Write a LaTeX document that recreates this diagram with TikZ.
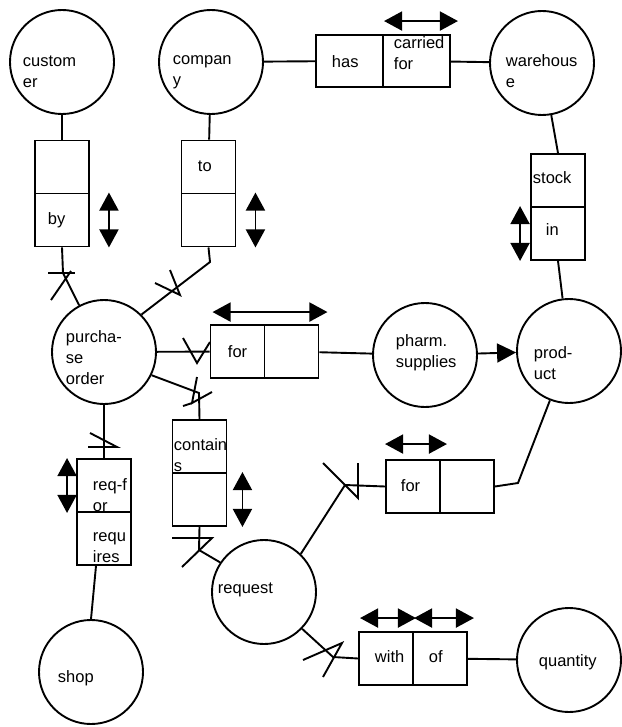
\documentclass[tikz,border=0pt]{standalone}
\usepackage{fontspec}
\setmainfont{Liberation Sans}
\usetikzlibrary{arrows.meta}

\begin{document}
\begin{tikzpicture}[
  x=1pt, y=-1pt,
  line width=1.9pt,
  font=\fontsize{16.5}{21}\selectfont,
  ent/.style={circle, draw, minimum size=104pt, inner sep=0pt},
  role/.style={draw, minimum width=54pt, minimum height=53pt, inner sep=0pt},
  wrole/.style={role, minimum width=67pt, minimum height=52pt},
  lbl/.style={anchor=west, align=left, inner sep=0pt},
  dbl/.style={{Triangle[length=18pt,width=19pt]}-{Triangle[length=18pt,width=19pt]}},
  sub/.style={-{Triangle[length=19pt,width=19pt]}},
  tick/.style={line width=1.9pt, line join=miter}
]
\useasboundingbox (0,0) rectangle (621,727);

\node[ent] (cust) at (62,62) {};
\node[ent] (comp) at (211,62) {};
\node[ent] (ware) at (542,63) {};
\node[ent] (po) at (104,352) {};
\node[ent] (pharm) at (425,355) {};
\node[ent] (prod) at (569,351) {};
\node[ent] (req) at (264,592) {};
\node[ent] (shop) at (91,672) {};
\node[ent] (qty) at (569,660) {};

\node[lbl] (custl) at (22,72) {custom\\er};
\node[lbl] (compl) at (172,72) {compan\\y};
\node[lbl] (warel) at (505,71) {warehous\\e};
\node[lbl] (pol) at (65,358) {purcha-\\se\\order};
\node[lbl] (pharml) at (395,353) {pharm.\\supplies};
\node[lbl] (prodl) at (533,363) {prod-\\uct};
\node[lbl] (reql) at (217,590) {request};
\node[lbl] (shopl) at (57,678) {shop};
\node[lbl] (qtyl) at (538,662) {quantity};

\node[role] (c1a) at (62,167) {};
\node[role] (c1b) at (62,220) {};
\node[role] (c2a) at (208.5,167) {};
\node[role] (c2b) at (208.5,220) {};
\node[wrole] (has) at (349.5,61) {};
\node[wrole] (carried) at (416.5,61) {};
\node[role] (stock) at (558,180.5) {};
\node[role] (in) at (558,233.5) {};
\node[role] (for1) at (237.5,351.5) {};
\node[role] (for1b) at (291.5,351.5) {};
\node[role] (contains) at (199.5,446.5) {};
\node[role] (containsb) at (199.5,499.5) {};
\node[role] (reqfor) at (104,485.5) {};
\node[role] (requires) at (104,538.5) {};
\node[role] (for2) at (413,486.5) {};
\node[role] (for2b) at (467,486.5) {};
\node[role] (with) at (386,658.5) {};
\node[role] (of) at (440,658.5) {};

\node[lbl] (byl) at (47,220) {by};
\node[lbl] (tol) at (197,166) {to};
\node[lbl] (hasl) at (331,62) {has};
\node[lbl] (carriedl) at (393,53) {carried\\for};
\node[lbl] (stockl) at (532,178) {stock};
\node[lbl] (inl) at (545,230) {in};
\node[lbl] (for1l) at (227,352) {for};
\node[lbl] (containsl) at (173,455) {contain\\s};
\node[lbl] (reqforl) at (92,495) {req-f\\or};
\node[lbl] (requiresl) at (92,548) {requ\\ires};
\node[lbl] (for2l) at (400,486) {for};
\node[lbl] (withl) at (374,657) {with};
\node[lbl] (ofl) at (428,657) {of};

\coordinate (k1) at (63,273);
\coordinate (k2) at (210,262);
\coordinate (k4) at (199,393);
\coordinate (k6) at (199,550);
\coordinate (k7) at (345,485);
\coordinate (k8) at (333,657);
\coordinate (k9) at (518,483);

\draw (cust) -- (c1a);
\draw (comp) -- (c2a);
\draw (comp) -- (has);
\draw (carried) -- (ware);
\draw (ware) -- (stock.north);
\draw (in.south) -- (prod);
\draw (for1b) -- (pharm);
\draw[sub] (pharm) -- (prod);
\draw (prod) -- (k9) -- (for2b.east);
\draw ([xshift=-8pt]requires.south) -- (shop.north);
\draw (of) -- (qty);

\draw (c1b.south) -- (k1) -- (po.118);
\draw (c2b.south) -- (k2) -- (po.45);
\draw (po) -- (for1);
\draw (po.-26) -- (k4) -- (contains.north);
\draw (po.south) -- (reqfor.north);
\draw (containsb.south) -- (k6) -- (req.146);
\draw (req.46) -- (k7) -- (for2.west);
\draw (req.-44) -- (k8) -- (with.west);

\draw[tick] (48,273) -- (75,273);
\draw[tick] (71,271) -- (51,300);
\draw[tick] (170,270) -- (180,295) -- (155,283);
\draw[tick] (183,338) -- (197,363) -- (210,342);
\draw[tick] (197,377) -- (192,403) -- (212,392);
\draw[tick] (183,406) -- (192,403);
\draw[tick] (90,433) -- (117,447) -- (88,447);
\draw[tick] (172,538) -- (212,538) -- (182,567);
\draw[tick] (323,463) -- (345,485) -- (358,498) -- (358,463);
\draw[tick] (303,660) -- (342,643) -- (323,677);

\draw[dbl] ([xshift=19pt]c1b.north east) -- ([xshift=19pt]c1b.south east);
\draw[dbl] ([xshift=19pt]c2b.north east) -- ([xshift=19pt]c2b.south east);
\draw[dbl] ([yshift=13pt,xshift=2pt]carried.north west) -- ([yshift=13pt,xshift=7pt]carried.north east);
\draw[dbl] ([xshift=-10pt]in.north west) -- ([xshift=-10pt]in.south west);
\draw[dbl] ([yshift=12pt,xshift=3pt]for1.north west) -- ([yshift=12pt,xshift=8pt]for1b.north east);
\draw[dbl] ([xshift=-9pt]reqfor.north west) -- ([xshift=-9pt]reqfor.south west);
\draw[dbl] ([xshift=15pt]containsb.north east) -- ([xshift=15pt]containsb.south east);
\draw[dbl] ([yshift=15pt]for2.north west) -- ([yshift=15pt,xshift=6pt]for2.north east);
\draw[dbl] ([yshift=13pt,xshift=2pt]with.north west) -- ([yshift=13pt,xshift=2pt]with.north east);
\draw[dbl] ([yshift=13pt,xshift=2pt]of.north west) -- ([yshift=13pt,xshift=6pt]of.north east);

\end{tikzpicture}
\end{document}
